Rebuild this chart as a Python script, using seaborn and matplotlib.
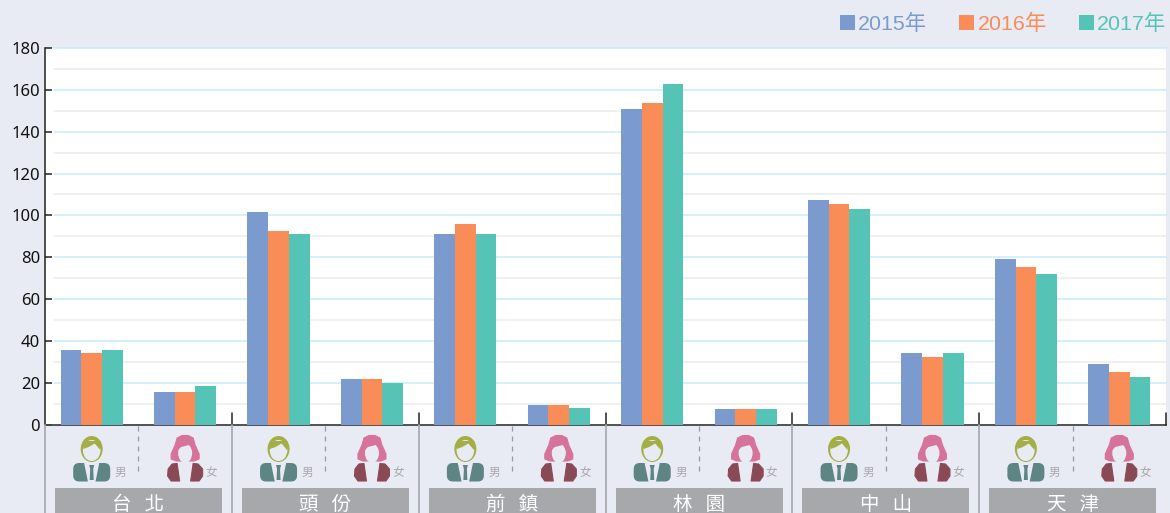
import matplotlib
matplotlib.use("Agg")
import matplotlib.pyplot as plt
from matplotlib.patches import Ellipse, Rectangle, Polygon, FancyBboxPatch
import pandas as pd
import seaborn as sns

cities = ["台   北", "頭   份", "前   鎮", "林   園", "中   山", "天   津"]
genders = ["男", "女"]
years = ["2015年", "2016年", "2017年"]
v2015 = [35.6, 15.6, 101.6, 21.8, 91, 9.4, 150.8, 7.5, 107.4, 34.2, 79.2, 29]
v2016 = [34.2, 15.6, 92.5, 21.8, 96, 9.4, 153.7, 7.5, 105.4, 32.3, 75.3, 25.2]
v2017 = [35.6, 18.5, 91, 20, 91, 8, 162.8, 7.5, 103, 34.2, 72, 22.8]
colors = ["#7b9bcf", "#f98c57", "#55c3b6"]
BG = "#e8ebf4"

sns.set_theme(style="white")
plt.rcParams["font.family"] = ["Noto Sans CJK TC", "DejaVu Sans"]

groups = [f"{c}{g}" for c in cities for g in genders]
df = pd.DataFrame({
    "group": groups * 3,
    "year": [y for y in years for _ in groups],
    "value": v2015 + v2016 + v2017,
})

W, H = 1170, 513
fig = plt.figure(figsize=(W / 100, H / 100), dpi=100, facecolor=BG)
L, R, T, B = 45, 1166, 48, 424.7
ax = fig.add_axes([L / W, 1 - B / H, (R - L) / W, (B - T) / H], facecolor="white")
sns.barplot(data=df, x="group", y="value", hue="year", palette=colors, width=0.665,
            saturation=1, gap=0, ax=ax, zorder=3, linewidth=0, edgecolor="none")
handles, labels = ax.get_legend_handles_labels()
ax.get_legend().remove()
ax.set_xlim(-0.5, 11.5)
ax.set_ylim(0, 180)
ax.set_xlabel("")
ax.set_ylabel("")
ax.set_xticks([])
ax.set_yticks(range(0, 181, 20))
ax.tick_params(axis="y", direction="in", length=5, width=1.1, color="#222222", labelsize=12,
               labelcolor="#111111", pad=3.5, left=True)
for t in ax.get_yticklabels():
    t.set_family(["Noto Sans", "DejaVu Sans"])
for v in range(10, 181, 10):
    ax.plot([0.008, 1], [v / 180, v / 180], transform=ax.transAxes, clip_on=False,
            color="#c8ecfa" if v % 20 == 0 else "#ececec", lw=1.1, zorder=1)
for s in ["top", "right"]:
    ax.spines[s].set_visible(False)
ax.spines["left"].set_color("#222222")
ax.spines["left"].set_linewidth(1.1)
ax.spines["bottom"].set_color("#444444")
ax.spines["bottom"].set_linewidth(1.3)
for x in [1.5, 3.5, 5.5, 7.5, 9.5, 11.5]:
    ax.plot([x, x], [0, 5.5], color="#222222", lw=1.1, zorder=4, clip_on=False)

leg = fig.legend(handles, labels, ncol=3, loc="upper right", bbox_to_anchor=(1166 / W, 1 - 14 / H),
                 frameon=False, handlelength=0.7, handleheight=0.7,
                 handletextpad=0.14, columnspacing=1.5, borderpad=0, borderaxespad=0,
                 prop={"family": ["Liberation Sans", "Noto Sans CJK TC"], "size": 15.4})
for t, c in zip(leg.get_texts(), colors):
    t.set_color(c)

ov = fig.add_axes([0, 0, 1, 1], facecolor="none")
ov.set_xlim(0, W)
ov.set_ylim(H, 0)
ov.axis("off")


def male(cx):
    body = "#5d8584"
    hair = "#a3ae45"
    ov.add_patch(FancyBboxPatch((cx - 18.5, 463), 37, 18.5, boxstyle="round,pad=0,rounding_size=6",
                                fc=body, ec="none"))
    ov.add_patch(Polygon([[cx - 8, 461], [cx + 8, 461], [cx + 3.5, 483], [cx - 3.5, 483]], fc=BG, ec="none"))
    ov.add_patch(Polygon([[cx - 2.5, 465], [cx + 2.5, 465], [cx + 1.5, 469], [cx + 2, 480],
                          [cx - 2, 480], [cx - 1.5, 469]], fc=body, ec="none"))
    ov.add_patch(Ellipse((cx, 449), 22, 26, fc=hair, ec="none"))
    ov.add_patch(Ellipse((cx, 450.5), 17.5, 21, fc=BG, ec="none"))
    ov.add_patch(Polygon([[cx - 8.5, 449], [cx - 3, 447], [cx + 3, 443.5], [cx + 8.5, 450],
                          [cx + 9, 441], [cx - 8, 441]], fc=hair, ec="none"))


def female(cx):
    body = "#8a4a55"
    hair = "#d6739a"
    ov.add_patch(Polygon([[cx - 13, 464], [cx - 8, 463.5], [cx - 5.5, 481], [cx - 14, 481],
                          [cx - 17.5, 476], [cx - 17, 469]], fc=body, ec=body, lw=0.8, joinstyle="round"))
    ov.add_patch(Polygon([[cx + 8, 463.5], [cx + 13, 464], [cx + 17.5, 469], [cx + 17.5, 476],
                          [cx + 14, 481], [cx + 5.5, 481]], fc=body, ec=body, lw=0.8, joinstyle="round"))
    ov.add_patch(Polygon([[cx - 3, 435.5], [cx + 3, 435.5], [cx + 8, 438], [cx + 10, 445], [cx + 14, 454],
                          [cx + 14, 459], [cx + 9, 461], [cx - 9, 461], [cx - 14, 459], [cx - 14, 454],
                          [cx - 10, 445], [cx - 8, 438]],
                         fc=hair, ec=hair, lw=0.8, joinstyle="round"))
    ov.add_patch(Ellipse((cx, 453), 14, 20, fc=BG, ec="none"))
    ov.add_patch(Polygon([[cx - 8, 451], [cx - 4, 447], [cx + 4, 445], [cx + 8, 451], [cx + 8, 440], [cx - 8, 440]],
                         fc=hair, ec="none"))


gx0 = 45.0
gw = (1166 - 45) / 6
for i, c in enumerate(cities):
    x0 = gx0 + i * gw
    ov.plot([x0, x0], [425, 513], color="#a9acb4", lw=1.3)
    mid = x0 + gw / 2
    ov.plot([mid, mid], [426, 471], color="#9a9a9f", lw=0.9, ls=(0, (4, 4)))
    male(x0 + gw * 0.25)
    female(x0 + gw * 0.75)
    ov.text(x0 + 75.5, 472.7, genders[0], color="#a9a9ad", fontsize=8.4, ha="center", va="center")
    ov.text(x0 + 166, 472.7, genders[1], color="#a9a9ad", fontsize=8.4, ha="center", va="center")
    ov.add_patch(Rectangle((x0 + 10, 488), 167, 26, fc="#a7a8ab", ec="none"))
    ov.text(mid, 504, c, color="white", fontsize=14, ha="center", va="center")

fig.savefig("out.png", dpi=100, facecolor=BG)
